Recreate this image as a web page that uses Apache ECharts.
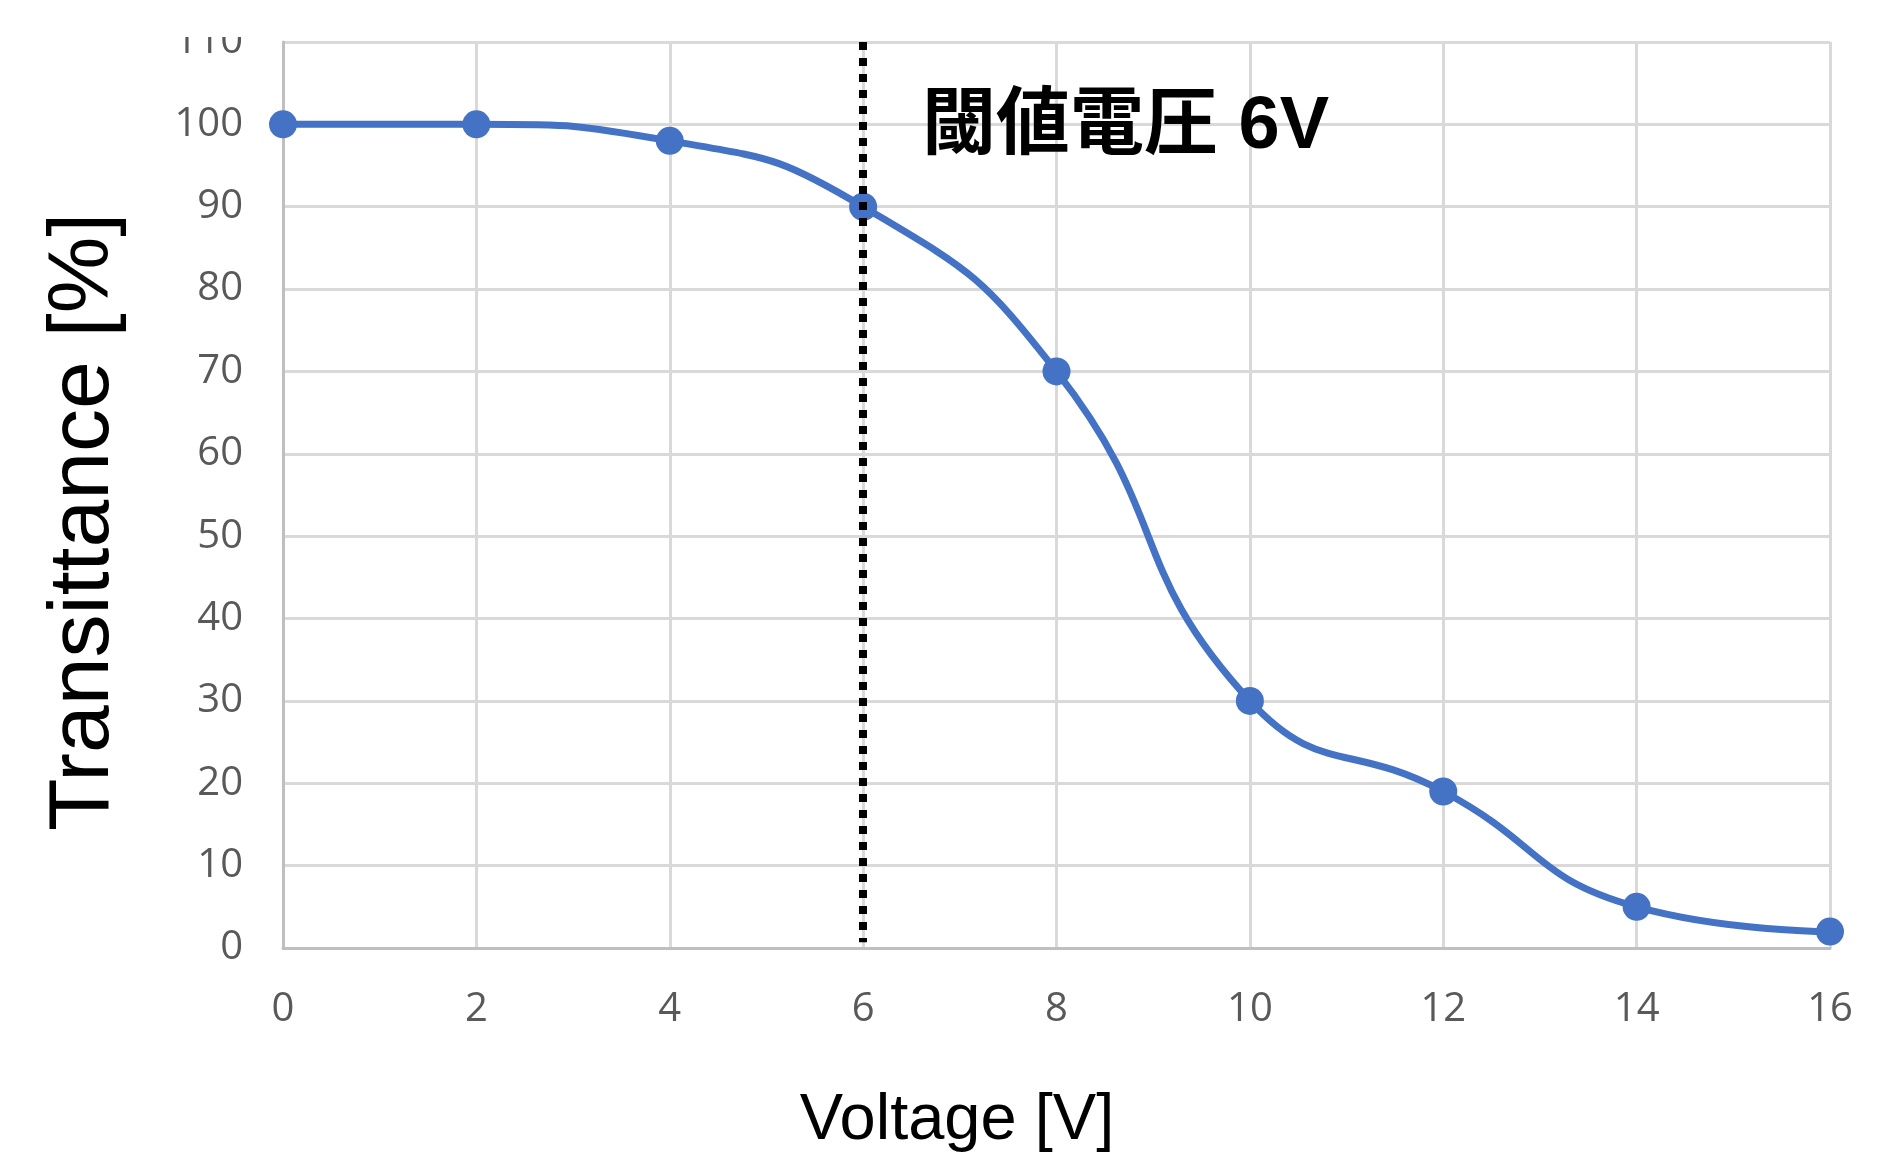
<!DOCTYPE html>
<html>
<head>
<meta charset="utf-8">
<title>Transittance vs Voltage</title>
<script src="https://cdn.jsdelivr.net/npm/echarts@6/dist/echarts.min.js"></script>
<style>
  html, body { margin: 0; padding: 0; background: #ffffff; }
  #chart { width: 1891px; height: 1161px; }
</style>
</head>
<body>
<div id="chart"></div>
<script>
// Applied voltage [V] and measured transmittance [%]
const voltages = [0, 2, 4, 6, 8, 10, 12, 14, 16];
const transmittance = [100, 100, 98, 90, 70, 30, 19, 5, 2];

// Threshold voltage marker
const thresholdVoltage = 6;
const thresholdLabel = '閾値電圧 6V';

// Axis ranges and tick steps
const xRange = [0, 16];
const xStep = 2;
const yRange = [0, 110];
const yStep = 10;

const xTitle = 'Voltage [V]';
const yTitle = 'Transittance [%]';

const points = voltages.map((v, i) => [v, transmittance[i]]);

const chart = echarts.init(document.getElementById('chart'), null, { renderer: 'canvas' });

const tickFont = { color: '#595959', fontSize: 40, fontFamily: '"Open Sans", sans-serif' };

chart.setOption({
  animation: false,
  backgroundColor: '#ffffff',
  grid: { left: 283, right: 61, top: 42, bottom: 213, containLabel: false },
  xAxis: {
    type: 'value',
    min: xRange[0],
    max: xRange[1],
    interval: xStep,
    axisLine: { show: true, lineStyle: { color: '#BFBFBF', width: 3 } },
    axisTick: { show: false },
    axisLabel: Object.assign({ margin: 42 }, tickFont),
    splitLine: { show: true, lineStyle: { color: '#D9D9D9', width: 3 } }
  },
  yAxis: {
    type: 'value',
    min: yRange[0],
    max: yRange[1],
    interval: yStep,
    axisLine: { show: true, lineStyle: { color: '#BFBFBF', width: 3 } },
    axisTick: { show: false },
    axisLabel: Object.assign({ margin: 40 }, tickFont),
    splitLine: { show: true, lineStyle: { color: '#D9D9D9', width: 3 } }
  },
  series: [
    {
      type: 'line',
      data: points,
      smooth: 0.5,
      symbol: 'circle',
      symbolSize: 28,
      itemStyle: { color: '#4472C4' },
      lineStyle: { color: '#4472C4', width: 7 },
      z: 3,
      markLine: {
        silent: true,
        symbol: 'none',
        label: { show: false },
        lineStyle: { color: '#000000', width: 8, type: [8, 8], cap: 'butt' },
        data: [[
          { coord: [thresholdVoltage, yRange[1]] },
          { coord: [thresholdVoltage, yRange[0] + 0.7] }
        ]],
        z: 4
      }
    }
  ],
  graphic: [
    {
      // the top tick label runs off the upper edge of the figure
      type: 'rect',
      shape: { x: 130, y: 0, width: 140, height: 37 },
      style: { fill: '#ffffff' },
      z: 100
    },
    {
      type: 'text',
      x: 922,
      y: 128,
      style: {
        text: thresholdLabel,
        fill: '#000000',
        font: 'bold 74px "Liberation Sans", "Noto Sans CJK JP", sans-serif',
        textAlign: 'left',
        textVerticalAlign: 'middle'
      },
      z: 10
    },
    {
      type: 'text',
      x: 957,
      y: 1121,
      style: {
        text: xTitle,
        fill: '#000000',
        font: '65px "Liberation Sans", Arial, sans-serif',
        textAlign: 'center',
        textVerticalAlign: 'middle'
      }
    },
    {
      type: 'text',
      x: 84,
      y: 522,
      rotation: Math.PI / 2,
      style: {
        text: yTitle,
        fill: '#000000',
        font: '86px "Liberation Sans", Arial, sans-serif',
        textAlign: 'center',
        textVerticalAlign: 'middle'
      }
    }
  ]
});
</script>
</body>
</html>
